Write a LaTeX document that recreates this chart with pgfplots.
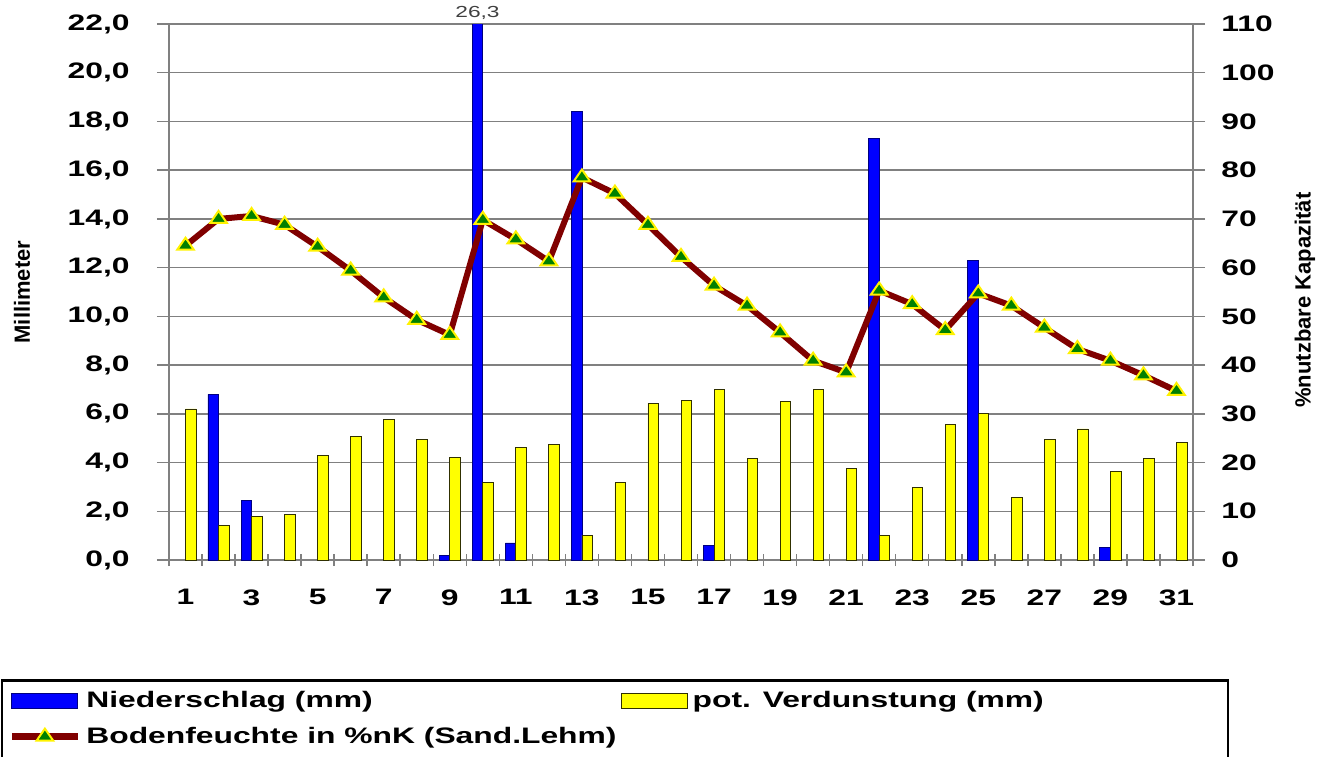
\documentclass[border=0pt]{standalone}
\usepackage{fontspec}
\setmainfont{Liberation Sans}[FakeStretch=1.42]
\newfontfamily\labelfont{Liberation Sans}
\usepackage{pgfplots}
\pgfplotsset{compat=1.18}

\definecolor{rain}{HTML}{0000FF}
\definecolor{rainedge}{HTML}{000080}
\definecolor{evap}{HTML}{FFFF00}
\definecolor{evapedge}{HTML}{303000}
\definecolor{soil}{HTML}{800000}
\definecolor{mk}{HTML}{008000}
\definecolor{gridgray}{HTML}{808080}

\pgfplotsset{
  soilline/.style={draw=soil, line width=3pt, mark=triangle*, mark size=4pt,
    mark options={fill=mk, draw=yellow, line width=1pt, solid, xscale=1.2}},
  bothaxes/.style={scale only axis, width=512pt, height=268pt,
    xmin=0.5, xmax=31.5,
    /pgf/number format/assume math mode=true,
    ticklabel style={font=\fontsize{11.2}{13}\selectfont\bfseries, inner sep=0pt},
    axis line style={draw=gridgray, line width=0.75pt, -},
    tick style={draw=gridgray, line width=0.75pt},
    major tick length=6pt,
    label style={font=\fontsize{11}{13}\selectfont\labelfont\bfseries},
    clip mode=individual},
}

\begin{document}
\begin{tikzpicture}
\begin{axis}[bothaxes,
  ymin=0, ymax=22, ytick={0,2,...,22},
  axis y line*=left, axis x line*=bottom,
  ytick align=outside, xtick align=center,
  yticklabel style={anchor=east, xshift=-13.5pt,
    /pgf/number format/fixed, /pgf/number format/fixed zerofill,
    /pgf/number format/precision=1, /pgf/number format/use comma},
  xtick={0.5,1.5,...,31.5}, xticklabels={},
  extra x ticks={1,3,...,31},
  extra x tick style={major tick length=0pt, grid=none},
  xticklabel style={anchor=north, yshift=-14.5pt},
  ymajorgrids, grid style={draw=gridgray, line width=0.75pt},
  ylabel={Millimeter},
  ylabel style={at={(axis description cs:-0.1436,0.5)}, anchor=center},
  legend columns=2, legend cell align=left,
  legend style={draw=none, fill=none, at={(axis description cs:0,0)},
    anchor=north west, xshift=-80.5pt, yshift=-65.3pt, inner sep=0pt,
    row sep=8.4pt, font=\fontsize{11.2}{13}\selectfont\bfseries,
    nodes={inner sep=0pt},
    /tikz/every odd column/.append style={column sep=2.5pt},
    /tikz/every even column/.append style={column sep=2pt}},
]
% Niederschlag (mm)
\addplot[ybar, bar width=0.32, bar shift=-0.16, fill=rain, draw=rainedge, line width=0.4pt,
  legend image code/.code={\draw[fill=rain, draw=rainedge, line width=0.6pt] (0pt,-3.75pt) rectangle (33pt,3.75pt);}]
  coordinates {(2,6.8) (3,2.45) (9,0.2) (10,26.3) (11,0.7) (13,18.4) (17,0.6) (22,17.3) (25,12.3) (29,0.5)};
\addlegendentry{Niederschlag (mm)}
% pot. Verdunstung (mm)
\addplot[ybar, bar width=0.32, bar shift=0.16, fill=evap, draw=evapedge, line width=0.4pt,
  legend image code/.code={\draw[fill=evap, draw=evapedge, line width=0.6pt] (0pt,-3.75pt) rectangle (33pt,3.75pt);}]
  coordinates {(1,6.2) (2,1.43) (3,1.8) (4,1.87) (5,4.28) (6,5.06) (7,5.77) (8,4.94)
    (9,4.2) (10,3.18) (11,4.63) (12,4.73) (13,1.02) (14,3.18) (15,6.43) (16,6.56)
    (17,7.0) (18,4.15) (19,6.49) (20,7.0) (21,3.77) (22,1.02) (23,2.97) (24,5.58)
    (25,6.02) (26,2.58) (27,4.94) (28,5.38) (29,3.62) (30,4.15) (31,4.83)};
\addlegendentry{pot. Verdunstung (mm)}
\addlegendimage{legend image code/.code={
  \draw[soil, line width=3.5pt] (0pt,0pt) -- (33pt,0pt);
  \draw[mark=triangle*, mark size=4pt, mark options={fill=mk, draw=yellow, line width=1pt, xscale=1.2}]
    plot coordinates {(16.5pt,0pt)};}}
\addlegendentry{Bodenfeuchte in \%nK (Sand.Lehm)}
\node[font=\fontsize{8}{9}\selectfont, text=darkgray, anchor=base, inner sep=0pt, yshift=3.5pt]
  at (axis cs:9.84,22) {26,3};
\end{axis}

\begin{axis}[bothaxes,
  ymin=0, ymax=110, ytick={0,10,...,110},
  axis y line*=right, axis x line=none, xtick=\empty,
  ytick align=outside,
  yticklabel style={anchor=west, xshift=8pt},
  ylabel={\%nutzbare Kapazität},
  ylabel style={at={(axis description cs:1.1094,0.485)}, anchor=center},
]
% Bodenfeuchte in %nK
\addplot[soilline] coordinates {(1,64.5) (2,70) (3,70.6) (4,68.8) (5,64.3) (6,59.4)
  (7,53.9) (8,49.3) (9,46.2) (10,69.8) (11,65.8) (12,61.3) (13,78.5) (14,75.2)
  (15,68.8) (16,62.2) (17,56.3) (18,52.2) (19,46.7) (20,40.9) (21,38.5) (22,55.3)
  (23,52.5) (24,47.2) (25,54.7) (26,52.2) (27,47.7) (28,43.3) (29,40.9) (30,37.9)
  (31,34.7)};
\end{axis}

% legend frame
\draw[black, line width=0.75pt] (-83.5pt,-130pt) -- (-83.5pt,-60pt);
\draw[black, line width=0.75pt] (529.5pt,-130pt) -- (529.5pt,-60pt);
\draw[black, line width=1.5pt] (-83.9pt,-60pt) -- (529.9pt,-60pt);

\pgfresetboundingbox
\path[use as bounding box] (-84.5pt,-98pt) rectangle (582pt,280pt);
\end{tikzpicture}
\end{document}
